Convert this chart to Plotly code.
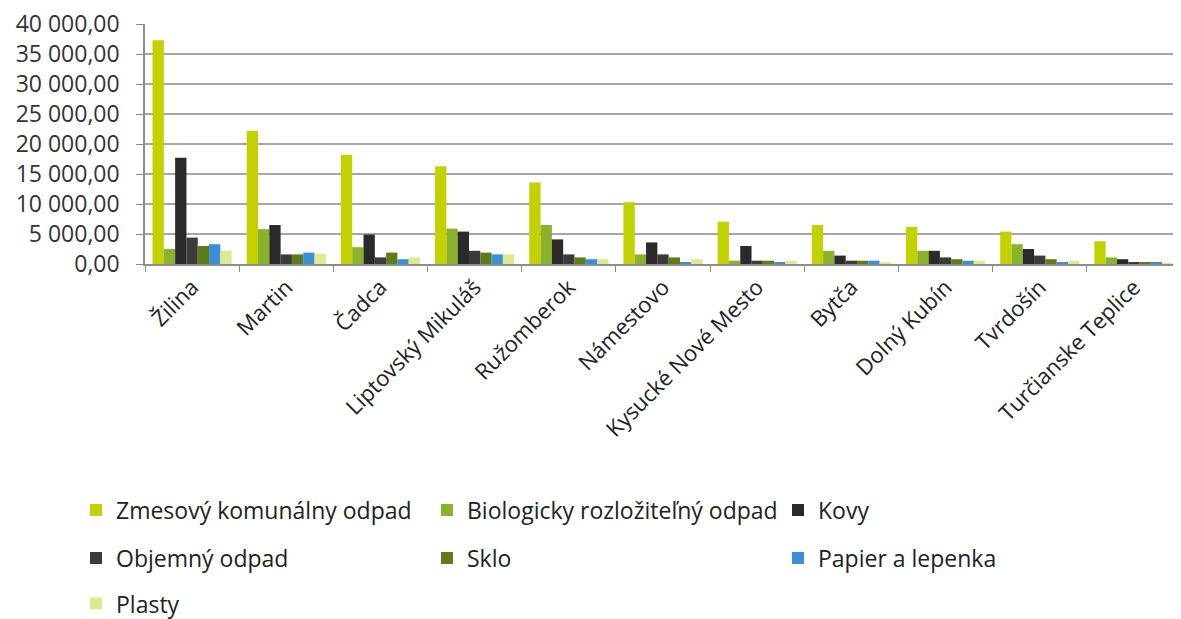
import plotly.graph_objects as go

categories = ["Žilina", "Martin", "Čadca", "Liptovský Mikuláš", "Ružomberok", "Námestovo",
              "Kysucké Nové Mesto", "Bytča", "Dolný Kubín", "Tvrdošín", "Turčianske Teplice"]

zmesovy = [37300, 22200, 18200, 16300, 13600, 10300, 7050, 6500, 6200, 5400, 3800]
biologicky = [2500, 5800, 2800, 5900, 6500, 1600, 550, 2200, 2200, 3300, 1100]
kovy = [17700, 6500, 4900, 5400, 4100, 3600, 3000, 1400, 2200, 2500, 800]
objemny = [4400, 1600, 1100, 2200, 1600, 1600, 550, 550, 1100, 1400, 300]
sklo = [3000, 1600, 1900, 1900, 1100, 1100, 550, 550, 800, 800, 300]
papier = [3300, 1900, 800, 1600, 800, 300, 300, 550, 550, 300, 300]
plasty = [2200, 1700, 1100, 1600, 800, 800, 550, 300, 550, 550, 150]

series = [
    ("Zmesový komunálny odpad", zmesovy, "#c3d100", "legend"),
    ("Biologicky rozložiteľný odpad", biologicky, "#8ab22a", "legend"),
    ("Kovy", kovy, "#2a2a2a", "legend"),
    ("Objemný odpad", objemny, "#3b3b3b", "legend2"),
    ("Sklo", sklo, "#5e7d17", "legend2"),
    ("Papier a lepenka", papier, "#3a8fdb", "legend2"),
    ("Plasty", plasty, "#dfe98f", "legend3"),
]

fig = go.Figure()
for name, vals, color, lg in series:
    fig.add_trace(go.Bar(x=categories, y=vals, name=name, marker_color=color,
                         marker_line_width=0, legend=lg))

font_family = "Open Sans, Lato, sans-serif"
leg_common = dict(orientation="h", xanchor="left", yanchor="middle",
                  entrywidth=306, entrywidthmode="pixels",
                  font=dict(family=font_family, size=23, color="#222222"),
                  bgcolor="rgba(0,0,0,0)", itemclick=False, itemdoubleclick=False)

fig.update_layout(
    width=1173, height=611,
    margin=dict(l=137, r=0, t=16, b=355, autoexpand=False),
    plot_bgcolor="white", paper_bgcolor="white",
    separators=", ",
    barmode="group", bargap=0.16, bargroupgap=0,
    font=dict(family=font_family, size=22, color="#333333"),
    xaxis=dict(tickangle=-45, ticks="outside", tickson="boundaries", ticklen=6,
               tickcolor="#8c8c8c", showline=True, linecolor="#8c8c8c", linewidth=1.5,
               tickfont=dict(family=font_family, size=22, color="#222222"),
               showgrid=False, automargin=False),
    yaxis=dict(range=[0, 40000], dtick=5000, tickformat=",.2f", ticks="outside",
               ticklen=7, tickcolor="#8c8c8c", showline=True, linecolor="#8c8c8c",
               linewidth=1.5, gridcolor="#a6a6a6", gridwidth=1.5, zeroline=False,
               ticklabelstandoff=12, ticklabeloverflow="allow",
               tickfont=dict(family=font_family, size=23, color="#333333"),
               automargin=False),
    legend=dict(x=-0.0666, y=-1.025, **leg_common),
    legend2=dict(x=-0.0666, y=-1.225, **leg_common),
    legend3=dict(x=-0.0666, y=-1.415, **leg_common),
    showlegend=True,
)

fig.write_html("out.html")
